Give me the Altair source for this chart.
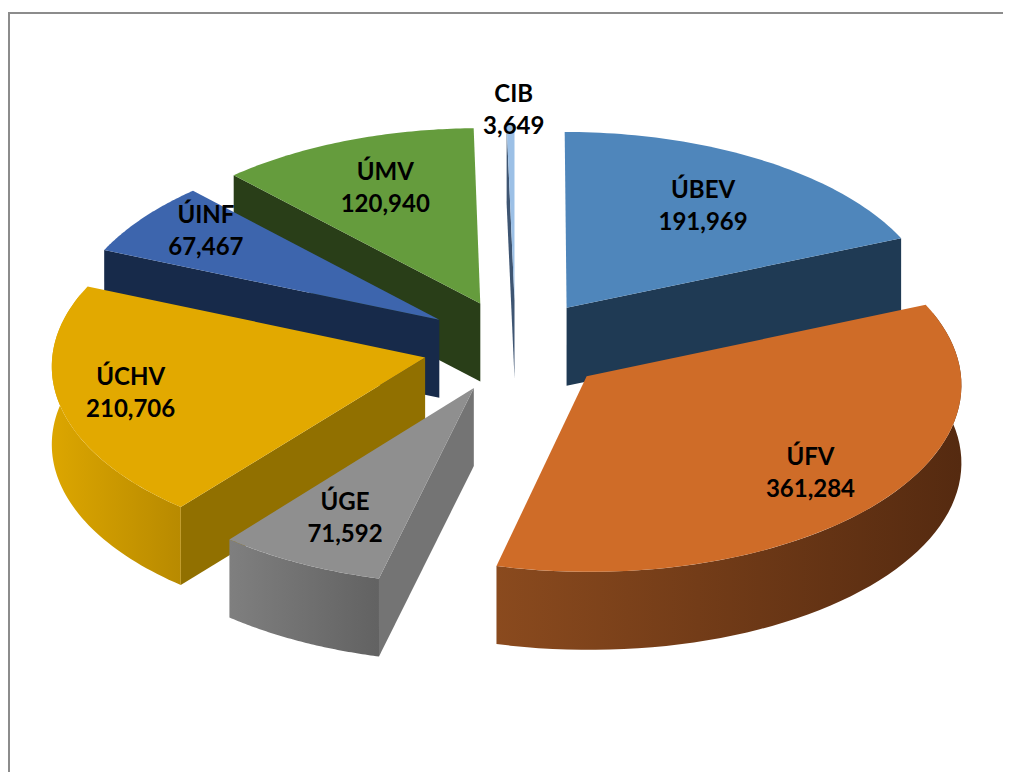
import numpy as np
import altair as alt

names = ["ÚBEV", "ÚFV", "ÚGE", "ÚCHV", "ÚINF", "ÚMV", "CIB"]
values = [191969, 361284, 71592, 210706, 67467, 120940, 3649]
top_colors = ["#4f86bb", "#cf6c28", "#8f8f8f", "#e2a900", "#3d65ad", "#659c3d", "#9cc0e6"]
wall_colors = ["#1f3a54", "#5a2c10", "#747474", "#917000", "#172a4a", "#293e18", "#3e5572"]
rim_stops = [None, ["#8a4a1e", "#552a10"], ["#7f7f7f", "#626262"], ["#dca600", "#b88a00"], None, None, None]
label_radius = [0.66, 0.82, 0.78, 0.82, 0.78, 0.66, 1.08]
label_nudge = [(5.5, -2), (-16, -5), (6, -5), (5, -1), (-1, -8), (-5, -6), (3.5, 0)]
paint_order = [6, 5, 0, 4, 3, 1, 2]

W, H = 995, 764
OX, OY = 8, 8
CX, CY, RX, RY = 515.5, 346.0, 372.0, 185.5
EXPLODE, PERSP, DEPTH = 0.25, 0.039, 78.0


def project(X, Y, z=0.0):
    s = 1.0 / (1.0 + PERSP * Y)
    return [float(CX + RX * X * s - OX), float(CY - RY * Y * s + z - OY)]


fr = np.array(values) / sum(values)
edges = np.concatenate([[0], np.cumsum(fr)]) * 2 * np.pi


def rim_pts(i, a0, a1, z=0.0, n=60):
    mid = (edges[i] + edges[i + 1]) / 2
    ex, ey = EXPLODE * np.sin(mid), EXPLODE * np.cos(mid)
    return [project(ex + np.sin(a), ey + np.cos(a), z) for a in np.linspace(a0, a1, n)]


def apex(i, z=0.0):
    mid = (edges[i] + edges[i + 1]) / 2
    return project(EXPLODE * np.sin(mid), EXPLODE * np.cos(mid), z)


PROJ = dict(type="identity", scale=1, translate=[0, 0])


def poly_chart(pts, fill):
    geom = {"type": "Polygon", "coordinates": [pts + [pts[0]]]}
    feat = {"type": "Feature", "properties": {}, "geometry": geom}
    return alt.Chart(alt.InlineData(values=[feat])).mark_geoshape(
        fill=fill, stroke=None, strokeWidth=0).project(**PROJ)


layers = []

frame = {"type": "Feature", "properties": {}, "geometry": {"type": "LineString", "coordinates": [
    [1, H + 20], [1, 5], [W + 20, 5]]}}
layers.append(alt.Chart(alt.InlineData(values=[frame])).mark_geoshape(
    filled=False, fill=None, stroke="#8c8c8c", strokeWidth=2).project(**PROJ))

for i in paint_order:
    a0, a1 = edges[i], edges[i + 1]
    for a, visible in ((a0, np.sin(a0) < 0), (a1, np.sin(a1) > 0)):
        if visible:
            top = rim_pts(i, a, a, n=1)[0]
            bot = rim_pts(i, a, a, z=DEPTH, n=1)[0]
            layers.append(poly_chart([apex(i), top, bot, apex(i, DEPTH)], wall_colors[i]))
    lo, hi = max(a0, np.radians(70)), min(a1, np.radians(290))
    if lo < hi:
        up = rim_pts(i, lo, hi)
        down = rim_pts(i, lo, hi, z=DEPTH)
        stops = rim_stops[i] or [wall_colors[i], wall_colors[i]]
        grad = alt.LinearGradient(gradient="linear", x1=0, x2=1, y1=0, y2=0, stops=[
            alt.GradientStop(color=stops[0], offset=0),
            alt.GradientStop(color=stops[1], offset=1)])
        layers.append(poly_chart(up + down[::-1], grad))
    layers.append(poly_chart([apex(i)] + rim_pts(i, a0, a1), top_colors[i]))

rows = []
for i, name in enumerate(names):
    mid = (edges[i] + edges[i + 1]) / 2
    e = EXPLODE + label_radius[i]
    lon, lat = project(e * np.sin(mid), e * np.cos(mid))
    rows.append({"label": f"{name}\n{values[i]:,}",
                 "lon": lon + label_nudge[i][0], "lat": lat + label_nudge[i][1]})

labels = alt.Chart(alt.InlineData(values=rows)).mark_text(
    font="Lato", fontWeight="bold", fontSize=24, color="#000000",
    lineBreak="\n", lineHeight=32, align="center", baseline="middle", dy=-16
).encode(longitude="lon:Q", latitude="lat:Q", text="label:N").project(**PROJ)
layers.append(labels)

chart = alt.layer(*layers).properties(
    width=W, height=H, padding=0, autosize=alt.AutoSizeParams(type="none")
).configure_view(stroke=None)
chart.save("out.html", embed_options={"renderer": "svg", "actions": False})
